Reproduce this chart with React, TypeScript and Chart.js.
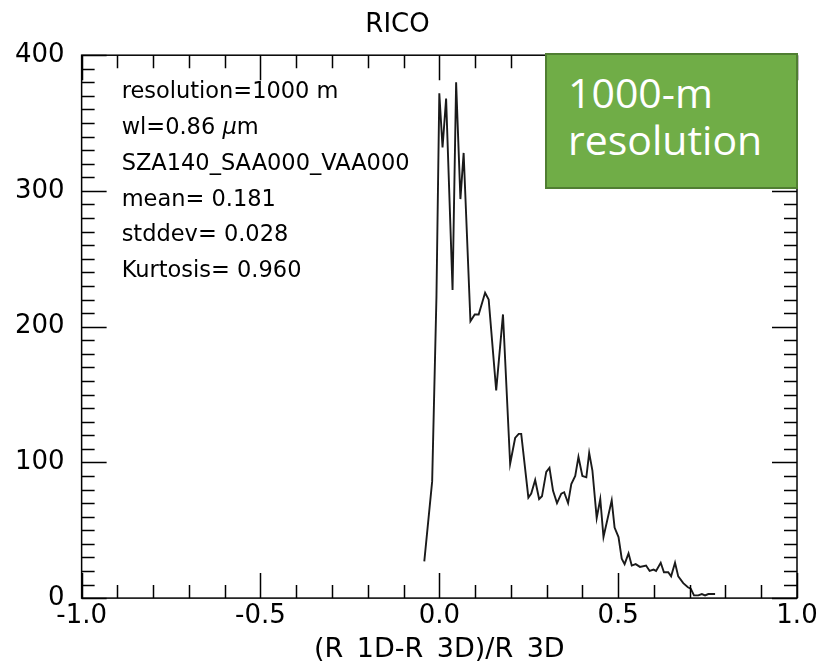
import React, { useEffect, useRef } from "react";
import { Chart, registerables } from "chart.js";

Chart.register(...registerables);

// ---- data ----
const xValues = [
  -0.042, -0.02, -0.008, 0.0, 0.009, 0.019, 0.037, 0.047, 0.059, 0.068,
  0.087, 0.099, 0.11, 0.128, 0.138, 0.159, 0.178, 0.198, 0.212, 0.222,
  0.229, 0.249, 0.257, 0.268, 0.279, 0.287, 0.299, 0.308, 0.318, 0.329,
  0.341, 0.349, 0.36, 0.369, 0.38, 0.389, 0.4, 0.411, 0.419, 0.428,
  0.44, 0.45, 0.459, 0.482, 0.49, 0.501, 0.51, 0.518, 0.529, 0.538,
  0.549, 0.561, 0.578, 0.588, 0.599, 0.606, 0.619, 0.628, 0.64, 0.648,
  0.659, 0.668, 0.682, 0.695, 0.703, 0.712, 0.724, 0.734, 0.743, 0.752,
  0.771,
];
const counts = [
  27, 86, 222, 372, 332, 368, 227, 380, 294, 328,
  204, 209, 209, 225, 220, 153, 209, 99, 118, 121,
  121, 74, 77, 87, 73, 75, 93, 96, 79, 70,
  77, 78, 70, 84, 90, 104, 90, 89, 107, 94,
  59, 73, 45, 72, 52, 45, 29, 25, 33, 24,
  25, 23, 24, 20, 21, 20, 26, 19, 19, 16,
  26, 16, 11, 8, 7, 2, 2, 3, 2, 3,
  3,
];

const xTickLabels = [-1.0, -0.5, 0.0, 0.5, 1.0];
const yTickLabels = [0, 100, 200, 300, 400];
const xMinorStep = 0.1;
const yMinorStep = 10;

const titleText = "RICO";
const xAxisTitle = "(R_1D-R_3D)/R_3D";
const infoLines = [
  "resolution=1000 m",
  "wl=0.86 |μ|m",
  "SZA140_SAA000_VAA000",
  "mean= 0.181",
  "stddev= 0.028",
  "Kurtosis= 0.960",
];
const boxLines = ["1000-m", "resolution"];

const FONT = "'DejaVu Sans', sans-serif";

const framePlugin = {
  id: "frame",
  afterDraw(chart: any) {
    const { ctx, chartArea, scales } = chart;
    const { left, right, top, bottom } = chartArea;
    const x = scales.x;
    const y = scales.y;
    ctx.save();
    ctx.strokeStyle = "#000";
    ctx.lineWidth = 1.5;
    ctx.strokeRect(left, top, right - left, bottom - top);
    ctx.beginPath();
    const xMin = xTickLabels[0];
    const xMax = xTickLabels[xTickLabels.length - 1];
    const nx = Math.round((xMax - xMin) / xMinorStep);
    for (let i = 0; i <= nx; i++) {
      const v = xMin + i * xMinorStep;
      const px = Math.round(x.getPixelForValue(v)) + 0.5;
      const major = xTickLabels.some((t) => Math.abs(t - v) < 1e-6);
      const len = major ? 25 : 13;
      ctx.moveTo(px, bottom);
      ctx.lineTo(px, bottom - len);
      ctx.moveTo(px, top);
      ctx.lineTo(px, top + len);
    }
    const yMin = yTickLabels[0];
    const yMax = yTickLabels[yTickLabels.length - 1];
    const ny = Math.round((yMax - yMin) / yMinorStep);
    for (let j = 0; j <= ny; j++) {
      const v = yMin + j * yMinorStep;
      const py = Math.round(y.getPixelForValue(v)) + 0.5;
      const major = yTickLabels.some((t) => Math.abs(t - v) < 1e-6);
      const len = major ? 25 : 13;
      ctx.moveTo(left, py);
      ctx.lineTo(left + len, py);
      ctx.moveTo(right, py);
      ctx.lineTo(right - len, py);
    }
    ctx.stroke();

    // info text
    ctx.fillStyle = "#000";
    ctx.textBaseline = "alphabetic";
    ctx.textAlign = "left";
    const normal = `22.5px ${FONT}`;
    const italic = `italic 22.5px ${FONT}`;
    const tx = left + 40;
    infoLines.forEach((line, i) => {
      const by = top + 43 + i * 35.8;
      const parts = line.split("|");
      let cx = tx;
      parts.forEach((p, k) => {
        ctx.font = k % 2 === 1 ? italic : normal;
        ctx.fillText(p, cx, by);
        cx += ctx.measureText(p).width;
      });
    });
    ctx.restore();
  },
};

export default function App() {
  const canvasRef = useRef<HTMLCanvasElement | null>(null);

  useEffect(() => {
    const canvas = canvasRef.current;
    if (!canvas) return;
    const chart = new Chart(canvas, {
      type: "line",
      data: {
        datasets: [
          {
            data: xValues.map((x, i) => ({ x, y: counts[i] })),
            borderColor: "#1a1a1a",
            borderWidth: 1.9,
            pointRadius: 0,
            tension: 0,
            fill: false,
          },
        ],
      },
      options: {
        animation: false,
        responsive: false,
        devicePixelRatio: 1,
        layout: { padding: { left: -2, right: 28, top: 0, bottom: -4 } },
        plugins: {
          legend: { display: false },
          tooltip: { enabled: false },
          title: {
            display: true,
            text: titleText,
            color: "#000",
            font: { family: FONT, size: 26, weight: "normal" },
            padding: { top: 10, bottom: 14 },
          },
        },
        scales: {
          x: {
            type: "linear",
            min: xTickLabels[0],
            max: xTickLabels[xTickLabels.length - 1],
            afterBuildTicks: (s: any) => {
              s.ticks = xTickLabels.map((v) => ({ value: v }));
            },
            ticks: {
              color: "#000",
              font: { family: FONT, size: 26 },
              padding: 3,
              maxRotation: 0,
              autoSkip: false,
              callback: (v: any) => Number(v).toFixed(1),
            },
            grid: { display: false, drawTicks: false },
            border: { display: false },
            title: {
              display: true,
              text: xAxisTitle,
              color: "#000",
              font: { family: FONT, size: 27, lineHeight: 1.1 },
              padding: { top: 0, bottom: 0 },
            },
          },
          y: {
            type: "linear",
            min: yTickLabels[0],
            max: yTickLabels[yTickLabels.length - 1],
            afterBuildTicks: (s: any) => {
              s.ticks = yTickLabels.map((v) => ({ value: v }));
            },
            ticks: {
              color: "#000",
              font: { family: FONT, size: 26 },
              padding: 17,
              autoSkip: false,
              callback: (v: any) => String(v),
            },
            grid: { display: false, drawTicks: false },
            border: { display: false },
          },
        },
      } as any,
      plugins: [framePlugin],
    });
    return () => chart.destroy();
  }, []);

  return (
    <div style={{ position: "absolute", left: 0, top: 0, width: 825, height: 661, background: "#fff", overflow: "hidden" }}>
      <canvas ref={canvasRef} width={825} height={661} style={{ display: "block" }} />
      <div
        style={{
          position: "absolute",
          left: 545,
          top: 53,
          width: 253,
          height: 136,
          background: "#70AD47",
          border: "2px solid #507E32",
          color: "#fff",
          fontFamily: "'Open Sans', sans-serif",
          fontSize: 41,
          lineHeight: "47px",
          paddingLeft: 21,
          paddingTop: 14,
          boxSizing: "border-box",
        }}
      >
        {boxLines.map((l, i) => (
          <div key={i}>{l}</div>
        ))}
      </div>
    </div>
  );
}
